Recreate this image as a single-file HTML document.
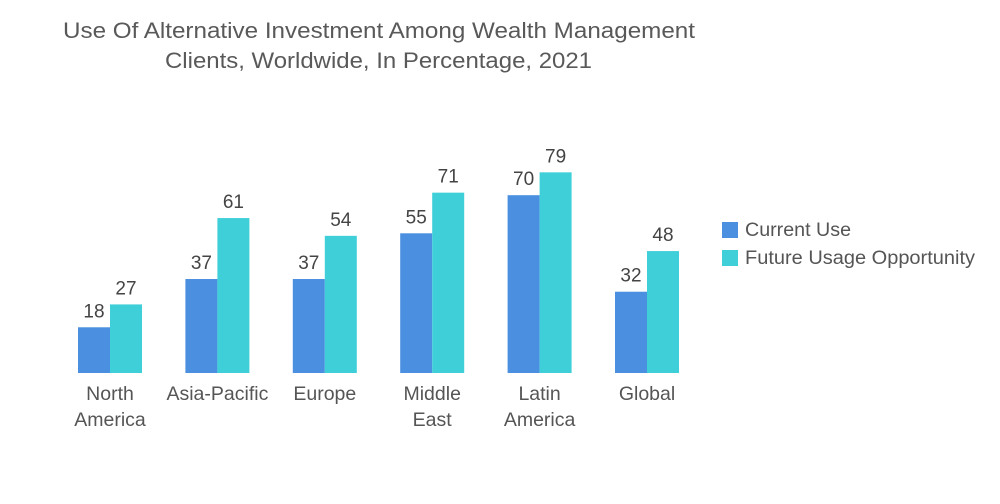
<!DOCTYPE html>
<html><head><meta charset="utf-8"><style>
body{margin:0;background:#fff;font-family:"Liberation Sans",sans-serif;}
#c{position:relative;width:1000px;height:504px;overflow:hidden;}
</style></head><body>
<div id="c">
<svg width="1000" height="504">
<g font-size="22" fill="#595959">
<text x="63" y="38" textLength="632" lengthAdjust="spacingAndGlyphs">Use Of Alternative Investment Among Wealth Management</text>
<text x="165" y="68" textLength="427" lengthAdjust="spacingAndGlyphs">Clients, Worldwide, In Percentage, 2021</text>
</g>
<g id="bars"></g>
<g font-size="19" fill="#555">
<rect x="722" y="222" width="16" height="16" fill="#4a8fe0"/>
<text x="745" y="236" textLength="106" lengthAdjust="spacingAndGlyphs">Current Use</text>
<rect x="722" y="250" width="16" height="16" fill="#3ecfd8"/>
<text x="745" y="264" textLength="230" lengthAdjust="spacingAndGlyphs">Future Usage Opportunity</text>
</g>
</svg>
</div>
<script>
const categories=[["North","America"],["Asia-Pacific"],["Europe"],["Middle","East"],["Latin","America"],["Global"]];
const currentUse=[18,37,37,55,70,32];
const futureUse=[27,61,54,71,79,48];
const ns="http://www.w3.org/2000/svg";
const g=document.getElementById("bars");
const base=373,k=2.54,x0=110,step=107.4,bw=32;
function y(v){return base-v*k;}
function mk(t,a){const e=document.createElementNS(ns,t);for(const n in a)e.setAttribute(n,a[n]);g.appendChild(e);return e;}
categories.forEach((c,i)=>{
 const cx=x0+i*step;
 [[currentUse[i],cx-bw,"#4a8fe0","current"],[futureUse[i],cx,"#3ecfd8","future"]].forEach(([v,x,col,nm])=>{
  const r=mk("rect",{x:x,y:y(v),width:bw,height:v*k,fill:col});
  
  
  const t=mk("text",{x:x+bw/2,y:y(v)-10,"text-anchor":"middle","font-size":"19",fill:"#444"});
  t.textContent=v;
  
  
 });
 c.forEach((ln,j)=>{
  const t=mk("text",{x:cx,y:400+j*26,"text-anchor":"middle","font-size":"19.5",fill:"#555"});
  t.textContent=ln;
  
  
 });
});
</script>
</body></html>
